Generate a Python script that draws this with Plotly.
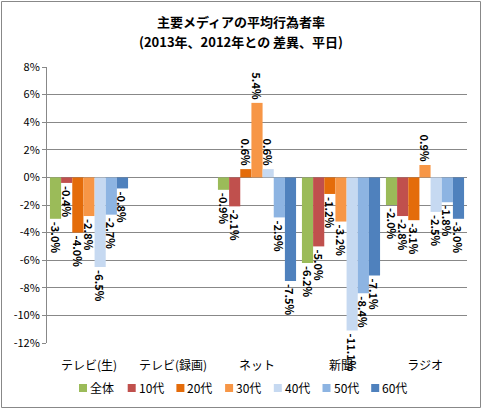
import plotly.graph_objects as go

categories = ["テレビ(生)", "テレビ(録画)", "ネット", "新聞", "ラジオ"]
series_names = ["全体", "10代", "20代", "30代", "40代", "50代", "60代"]
values_zentai = [-3.0, None, -0.9, -6.2, -2.0]
values_10 = [-0.4, None, -2.1, -5.0, -2.8]
values_20 = [-4.0, None, 0.6, -1.2, -3.1]
values_30 = [-2.8, None, 5.4, -3.2, 0.9]
values_40 = [-6.5, None, 0.6, -11.1, -2.5]
values_50 = [-2.7, None, -2.9, -8.4, -1.8]
values_60 = [-0.8, None, -7.5, -7.1, -3.0]
y_ticks = [8, 6, 4, 2, 0, -2, -4, -6, -8, -10, -12]
y_tick_labels = ["8%", "6%", "4%", "2%", "0%", "-2%", "-4%", "-6%", "-8%", "-10%", "-12%"]

all_values = [values_zentai, values_10, values_20, values_30, values_40, values_50, values_60]
colors = ["#9BBB59", "#C0504D", "#E46C0A", "#F79646", "#C6D9F1", "#8DB4E2", "#4F81BD"]

FONT = "Noto Sans CJK JP"
W, H = 483, 410
L, R, T, B = 47, 16, 67, 67
pw, ph = W - L - R, H - T - B

fig = go.Figure()
for name, vals, col in zip(series_names, all_values, colors):
    fig.add_trace(go.Bar(
        x=categories, y=vals, name=name, marker_color=col,
        marker_line_width=0, showlegend=False,
        text=[("" if v is None else f"{v:.1f}%") for v in vals],
        textposition="outside", textangle=90,
        textfont=dict(family=FONT, size=11, color="black", weight="bold"),
        cliponaxis=False, constraintext="none",
    ))

def px_x(p):
    return (p - L) / pw

def px_y(p):
    return (H - B - p) / ph

annotations = [
    dict(text="<b>主要メディアの平均行為者率</b>", xref="paper", yref="paper",
         x=px_x(241), y=px_y(22), xanchor="center", yanchor="middle",
         showarrow=False, font=dict(family=FONT, size=13, color="black")),
    dict(text="<b>(2013年、2012年との 差異、平日)</b>", xref="paper", yref="paper",
         x=px_x(241), y=px_y(41), xanchor="center", yanchor="middle",
         showarrow=False, font=dict(family=FONT, size=13, color="black")),
]
shapes = [dict(type="rect", xref="paper", yref="paper",
               x0=px_x(1.5), x1=px_x(480.5), y0=px_y(407.5), y1=px_y(1.5),
               line=dict(color="#888888", width=1), layer="below")]

# manual legend
leg_x0, leg_dx, leg_y = 79, 48.7, 387
for i, (name, col) in enumerate(zip(series_names, colors)):
    sx = leg_x0 + i * leg_dx
    shapes.append(dict(type="rect", xref="paper", yref="paper",
                       x0=px_x(sx), x1=px_x(sx + 8), y0=px_y(leg_y + 5), y1=px_y(leg_y - 3),
                       fillcolor=col, line=dict(width=0)))
    annotations.append(dict(text=name, xref="paper", yref="paper",
                            x=px_x(sx + 9), y=px_y(leg_y), xanchor="left", yanchor="middle",
                            showarrow=False, font=dict(family=FONT, size=12, color="black")))

fig.update_layout(
    width=W, height=H,
    margin=dict(l=L, r=R, t=T, b=B, autoexpand=False),
    paper_bgcolor="white", plot_bgcolor="white",
    barmode="group", bargap=0.07, bargroupgap=0,
    font=dict(family=FONT, color="black", size=11),
    showlegend=False,
    annotations=annotations,
    shapes=shapes,
)
fig.update_xaxes(showgrid=False, showline=False, ticks="", tickfont=dict(size=12, family=FONT),
                 ticklabelstandoff=14)
fig.update_yaxes(range=[-12, 8], tickvals=y_ticks, ticktext=y_tick_labels,
                 showgrid=True, gridcolor="#888888", gridwidth=1,
                 zeroline=True, zerolinecolor="#888888", zerolinewidth=1,
                 showline=True, linecolor="#888888", ticks="outside", ticklen=4,
                 tickcolor="#888888", tickfont=dict(size=11, family=FONT))
fig.write_html("out.html", config={"displayModeBar": False},
               post_script="document.body.style.margin='0';")
